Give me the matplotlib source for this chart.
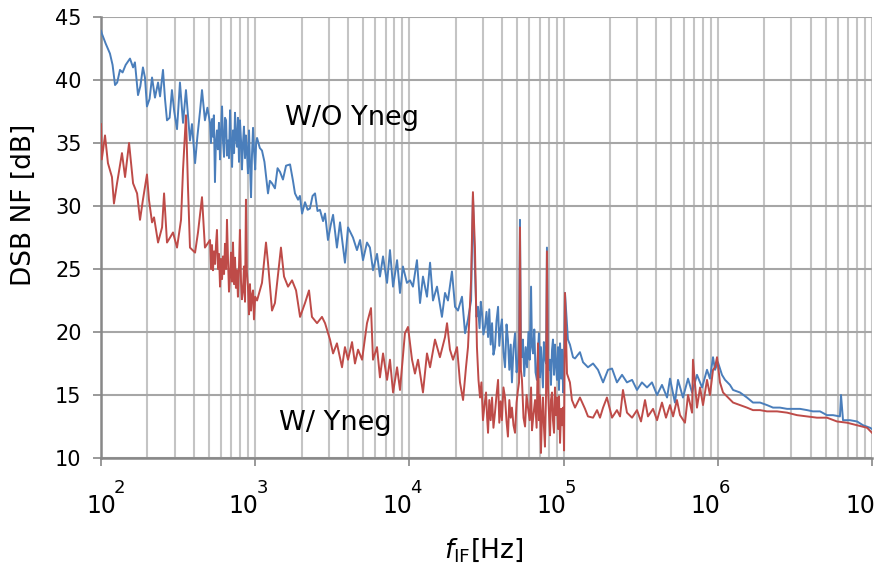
import numpy as np
import matplotlib
matplotlib.use("Agg")
import matplotlib.pyplot as plt
from matplotlib.transforms import blended_transform_factory, ScaledTranslation

plt.rcParams['font.family'] = ['DejaVu Sans']
plt.rcParams['mathtext.fontset'] = 'dejavusans'

# ---- data: log10(frequency / Hz) and DSB noise figure (dB) ----
blue_logf = [
    2.000, 2.005, 2.030, 2.058, 2.075, 2.091, 2.105, 2.123, 2.140, 2.160, 2.188, 2.208, 2.220, 2.240,
    2.255, 2.272, 2.285, 2.298, 2.315, 2.331, 2.350, 2.370, 2.383, 2.402, 2.415, 2.428, 2.445, 2.460,
    2.475, 2.493, 2.512, 2.532, 2.551, 2.565, 2.577, 2.590, 2.610, 2.625, 2.642, 2.655, 2.674, 2.690,
    2.707, 2.713, 2.720, 2.726, 2.732, 2.739, 2.745, 2.752, 2.758, 2.765, 2.772, 2.778, 2.785, 2.791,
    2.798, 2.804, 2.811, 2.817, 2.824, 2.830, 2.837, 2.843, 2.850, 2.856, 2.863, 2.869, 2.875, 2.882,
    2.888, 2.895, 2.901, 2.908, 2.914, 2.921, 2.927, 2.934, 2.940, 2.947, 2.953, 2.960, 2.966, 2.973,
    2.979, 2.986, 2.992, 3.000, 3.006, 3.012,
    3.030, 3.044, 3.060, 3.083, 3.095, 3.109,
    3.128, 3.145, 3.161, 3.180, 3.200, 3.226, 3.245, 3.258, 3.278, 3.290, 3.304, 3.323, 3.340, 3.355,
    3.372, 3.388, 3.404, 3.420, 3.440, 3.453, 3.472, 3.490, 3.505, 3.530, 3.550, 3.582, 3.602, 3.634,
    3.660, 3.680, 3.699, 3.725, 3.744, 3.764, 3.790, 3.809, 3.829, 3.855, 3.874, 3.894, 3.920, 3.939,
    3.958, 3.984, 4.004, 4.023, 4.049, 4.069, 4.088, 4.114, 4.134, 4.153, 4.179, 4.211, 4.231, 4.250,
    4.276, 4.296, 4.315, 4.341, 4.361, 4.380, 4.400, 4.412,
    4.425, 4.435, 4.445, 4.455, 4.463, 4.471, 4.480, 4.490, 4.500, 4.510, 4.518, 4.527, 4.536, 4.545,
    4.555, 4.565, 4.575, 4.583, 4.592, 4.600, 4.610, 4.620, 4.630, 4.639, 4.648, 4.657, 4.665, 4.675,
    4.685, 4.695, 4.704, 4.711, 4.717, 4.723, 4.730, 4.736, 4.745, 4.754, 4.763, 4.772, 4.780, 4.789,
    4.795, 4.802, 4.810, 4.818, 4.827, 4.834, 4.840, 4.847, 4.853, 4.860, 4.866, 4.872, 4.879, 4.886,
    4.892, 4.899, 4.905, 4.912, 4.918, 4.925, 4.931, 4.938, 4.944, 4.951, 4.957, 4.964, 4.970, 4.977,
    4.984, 4.990, 4.997, 5.003, 5.009,
    5.028, 5.041,
    5.061, 5.074, 5.106, 5.126, 5.158, 5.191, 5.223, 5.256, 5.288, 5.314, 5.346, 5.379, 5.411, 5.444,
    5.476, 5.508, 5.541, 5.573, 5.606, 5.638, 5.671, 5.690, 5.722, 5.742, 5.774, 5.807, 5.833, 5.865,
    5.898, 5.930, 5.949, 5.969, 5.982, 6.001, 6.027, 6.047, 6.079, 6.099, 6.144, 6.189, 6.228, 6.274,
    6.319, 6.358, 6.403, 6.449, 6.488, 6.533, 6.579, 6.617, 6.663, 6.708, 6.747, 6.792, 6.799, 6.812,
    6.857, 6.903, 6.942, 6.987, 7.000,
]
blue_nf = [
    43.9, 43.7, 42.9, 42.1, 41.2, 39.6, 39.8, 40.8, 40.6, 41.2, 41.7, 41.0, 41.4, 38.8,
    39.5, 41.0, 40.2, 37.9, 38.5, 40.2, 38.6, 39.8, 38.7, 40.8, 38.5, 36.8, 37.0, 39.2,
    37.5, 36.1, 39.8, 36.6, 39.2, 37.0, 35.2, 36.5, 33.4, 35.5, 37.5, 39.2, 36.8, 37.8,
    36.6, 35.0, 36.9, 35.5, 37.2, 31.9, 35.0, 36.0, 34.5, 36.6, 33.7, 35.8, 37.9, 35.2,
    33.9, 37.0, 36.8, 34.0, 35.2, 33.8, 37.6, 35.0, 33.1, 36.0, 34.2, 37.4, 35.5, 34.7,
    37.0, 33.5, 36.8, 35.2, 32.9, 35.0, 36.3, 33.8, 35.6, 34.2, 32.6, 36.0, 33.4, 30.7,
    34.0, 36.2, 34.5, 32.9, 35.0, 35.4,
    34.6, 34.4, 33.5, 31.0, 32.0, 31.8,
    31.4, 33.0, 32.7, 32.1, 33.2, 33.3, 32.0, 31.0, 30.5, 30.8, 29.4, 30.3, 29.7, 29.8,
    30.8, 31.0, 29.6, 29.7, 28.8, 29.4, 27.3, 28.5, 29.3, 26.7, 28.7, 25.5, 28.3, 27.5,
    26.5, 27.3, 25.7, 27.1, 26.7, 24.9, 26.2, 24.4, 26.0, 23.9, 26.5, 23.6, 25.7, 23.1,
    25.2, 23.9, 24.1, 23.6, 25.7, 22.3, 24.4, 22.8, 25.5, 22.5, 23.6, 21.2, 23.1, 22.5,
    24.8, 22.0, 21.7, 22.8, 19.9, 21.0, 22.5, 30.8,
    25.0, 21.2, 22.0, 20.3, 22.4, 21.5, 19.8, 20.4, 21.6, 19.6, 21.8, 19.0, 20.7, 18.2,
    18.8, 20.9, 22.0, 18.9, 20.3, 21.0, 18.4, 17.2, 20.6, 19.4, 17.0, 19.0, 16.0, 18.7,
    19.9, 16.8, 17.5, 19.5, 28.9, 19.0, 18.0, 19.4, 16.5, 18.8, 17.2, 20.0, 17.8, 23.6,
    18.8, 18.3, 20.2, 16.8, 16.2, 18.5, 19.9, 16.4, 18.8, 17.0, 15.6, 19.2, 18.0, 17.5,
    26.7, 18.0, 17.0, 17.8, 15.8, 18.6, 19.4, 16.6, 19.0, 17.4, 16.2, 18.8, 15.4, 19.1,
    16.3, 18.6, 15.2, 17.5, 23.1,
    19.4, 19.0,
    18.0, 17.9, 18.4, 17.6, 17.2, 17.5, 17.0, 16.0, 17.0, 17.1, 16.0, 16.6, 16.0, 16.2,
    15.4, 16.0, 15.6, 16.0, 15.0, 15.8, 14.8, 16.3, 14.4, 16.2, 14.8, 16.3, 15.2, 16.6,
    15.6, 17.0, 16.3, 18.0, 17.0, 17.6, 16.6, 16.2, 15.8, 15.4, 15.2, 14.8, 14.4, 14.4,
    14.2, 14.0, 14.0, 13.9, 13.9, 13.9, 13.8, 13.7, 13.7, 13.4, 13.4, 13.3, 15.0, 13.0,
    13.0, 12.9, 12.6, 12.4, 12.3,
]

red_logf = [
    2.000, 2.005, 2.026, 2.045, 2.071, 2.084, 2.104, 2.136, 2.156, 2.182, 2.208, 2.234, 2.253, 2.272,
    2.298, 2.311, 2.331, 2.344, 2.370, 2.396, 2.409, 2.428, 2.448, 2.467, 2.493, 2.519, 2.532, 2.551,
    2.564, 2.577, 2.610, 2.629, 2.655, 2.674,
    2.707, 2.714, 2.720, 2.726, 2.733, 2.740, 2.746, 2.752, 2.759, 2.765, 2.772, 2.778, 2.785, 2.791,
    2.798, 2.804, 2.811, 2.817, 2.824, 2.830, 2.837, 2.843, 2.850, 2.856, 2.863, 2.869, 2.875, 2.882,
    2.888, 2.895, 2.901, 2.908, 2.914, 2.921, 2.927, 2.934, 2.940, 2.946, 2.953, 2.960, 2.966, 2.973,
    2.979, 2.986, 2.992, 3.000, 3.012,
    3.044, 3.070, 3.083, 3.109, 3.128, 3.167,
    3.187, 3.213, 3.239, 3.265, 3.291, 3.323, 3.349, 3.368, 3.401, 3.433, 3.453, 3.485, 3.505, 3.530,
    3.563, 3.582, 3.602, 3.628, 3.647, 3.667, 3.693, 3.725, 3.751, 3.764, 3.790, 3.809, 3.829, 3.855,
    3.874, 3.894, 3.920, 3.939, 3.971, 3.991, 4.017, 4.036, 4.056, 4.088, 4.114, 4.134, 4.166, 4.198,
    4.231, 4.244, 4.263, 4.283, 4.309, 4.328, 4.348, 4.367, 4.380, 4.400, 4.412, 4.425,
    4.438, 4.448, 4.458, 4.467, 4.477, 4.487, 4.497, 4.504, 4.510, 4.518, 4.527, 4.536, 4.545, 4.555,
    4.565, 4.575, 4.583, 4.592, 4.600, 4.610, 4.620, 4.630, 4.639, 4.648, 4.657, 4.665, 4.675, 4.685,
    4.695, 4.704, 4.711, 4.717, 4.723, 4.730, 4.740, 4.750, 4.760, 4.769, 4.780, 4.789, 4.795, 4.805,
    4.815, 4.825, 4.834, 4.840, 4.847, 4.853, 4.860, 4.866, 4.872, 4.879, 4.886, 4.892, 4.899, 4.905,
    4.912, 4.918, 4.925, 4.931, 4.938, 4.944, 4.951, 4.957, 4.964, 4.970, 4.977, 4.984, 4.990, 4.997,
    5.003, 5.009,
    5.022, 5.041, 5.054, 5.074, 5.106, 5.139, 5.158, 5.191, 5.217, 5.236, 5.256, 5.281,
    5.314, 5.346, 5.366, 5.385, 5.411, 5.444, 5.476, 5.502, 5.528, 5.547, 5.580, 5.606, 5.638, 5.664,
    5.690, 5.710, 5.735, 5.755, 5.787, 5.807, 5.833, 5.839, 5.865, 5.885, 5.904, 5.930, 5.949, 5.969,
    5.982, 5.995, 6.014, 6.034, 6.066, 6.099, 6.144, 6.189, 6.228, 6.274, 6.319, 6.384, 6.449, 6.514,
    6.579, 6.643, 6.708, 6.773, 6.838, 6.903, 6.968, 7.000,
]
red_nf = [
    36.5, 33.7, 35.6, 33.4, 32.3, 30.2, 31.8, 34.2, 32.3, 35.0, 31.8, 31.0, 28.9, 30.5,
    32.5, 30.5, 28.7, 29.1, 27.1, 28.3, 31.0, 27.1, 27.5, 27.9, 26.7, 28.9, 32.9, 37.2,
    31.5, 26.7, 26.3, 27.9, 30.7, 26.7,
    27.3, 25.0, 26.9, 24.9, 26.4, 25.4, 27.0, 28.1, 25.0, 26.2, 23.6, 25.8, 24.2, 26.0,
    24.6, 27.0, 25.0, 28.9, 25.6, 23.2, 24.4, 26.3, 24.0, 27.1, 23.8, 25.9, 23.5, 24.9,
    22.8, 25.2, 28.1, 24.0, 22.6, 23.3, 25.2, 22.4, 30.5, 24.8, 23.6, 21.4, 23.8, 21.7,
    22.9, 23.3, 21.0, 22.8, 22.5,
    23.9, 27.1, 25.5, 21.7, 22.3, 26.7,
    24.4, 23.6, 24.1, 23.3, 21.2, 22.3, 23.3, 21.2, 20.7, 21.2, 20.7, 19.4, 18.3, 19.1,
    17.2, 18.8, 17.8, 19.2, 17.5, 18.6, 17.8, 20.7, 21.9, 17.8, 18.8, 16.4, 18.3, 16.2,
    17.8, 15.2, 17.2, 15.4, 19.9, 20.4, 17.8, 16.7, 17.8, 15.2, 18.3, 17.2, 19.4, 18.0,
    19.6, 20.7, 18.6, 17.8, 18.8, 16.0, 14.6, 17.2, 18.8, 24.1, 31.1, 26.7,
    18.8, 16.2, 14.8, 16.0, 13.0, 14.2, 15.2, 13.2, 12.0, 14.6, 13.0, 14.8, 12.4, 13.6,
    15.0, 16.2, 12.8, 14.5, 13.0, 15.6, 14.8, 12.9, 11.7, 14.6, 13.2, 14.0, 12.6, 12.0,
    14.4, 15.4, 16.0, 28.3, 17.0, 16.2, 13.2, 12.5, 15.0, 14.0, 13.0, 15.6, 12.2, 13.5,
    14.6, 12.4, 19.1, 13.0, 15.0, 10.4, 13.4, 14.8, 12.6, 10.9, 15.0, 26.4, 15.5, 13.6,
    11.8, 14.6, 15.2, 13.0, 12.0, 15.6, 13.4, 14.8, 12.3, 14.9, 11.2, 13.9, 12.6, 14.0,
    10.6, 23.1,
    16.7, 16.0, 14.6, 14.0, 14.8, 13.9, 13.3, 13.2, 13.8, 13.2, 14.0, 14.8,
    13.2, 13.8, 13.3, 15.4, 13.6, 13.2, 13.8, 12.9, 14.6, 13.3, 13.9, 13.0, 14.4, 13.2,
    14.2, 13.3, 14.6, 13.4, 12.8, 15.0, 13.6, 17.8, 14.0, 15.6, 14.2, 16.2, 15.0, 17.0,
    17.2, 18.0, 16.0, 15.2, 14.8, 14.4, 14.2, 14.0, 13.8, 13.8, 13.7, 13.7, 13.6, 13.4,
    13.3, 13.2, 13.2, 12.9, 12.8, 12.6, 12.4, 12.0,
]

y_ticks = [10, 15, 20, 25, 30, 35, 40, 45]
x_decades = [2, 3, 4, 5, 6, 7]
label_without = "W/O Yneg"
label_with = "W/ Yneg"

# ---- figure ----
W, H, DPI = 874, 572, 100
fig = plt.figure(figsize=(W / DPI, H / DPI), dpi=DPI)
ax = fig.add_axes([101 / W, 1 - 458 / H, (872 - 101) / W, (458 - 17) / H])

blue_c = '#4A7EBB'
red_c = '#BE4B48'
ax.plot(10 ** np.array(blue_logf), blue_nf, color=blue_c, lw=1.4, zorder=3, solid_joinstyle='round')
ax.plot(10 ** np.array(red_logf), red_nf, color=red_c, lw=1.4, zorder=4, solid_joinstyle='round')

ax.set_xscale('log')
ax.set_xlim(1e2, 1e7)
ax.set_ylim(10, 45)

# grid
ax.set_yticks(y_ticks)
ax.set_xticks([10.0 ** d for d in x_decades])
ax.set_xticks([m * 10.0 ** d for d in x_decades[:-1] for m in range(2, 10)], minor=True)
ax.grid(True, which='major', axis='y', color='#A6A6A6', lw=1.5, zorder=1)
ax.grid(True, which='both', axis='x', color='#C4C4C4', lw=1.5, zorder=1)
ax.set_axisbelow(True)

for s in ['top', 'right']:
    ax.spines[s].set_visible(False)
for s in ['left', 'bottom']:
    ax.spines[s].set_color('#888888')
    ax.spines[s].set_linewidth(1.8)
    ax.spines[s].set_zorder(2)

ax.tick_params(axis='y', which='major', direction='out', length=6, width=1.2, color='#888888',
               labelsize=15, pad=8, labelcolor='black')
ax.tick_params(axis='x', which='major', direction='out', length=6, width=1.2, color='#888888',
               labelbottom=False)
ax.tick_params(axis='x', which='minor', length=0, labelbottom=False)

# custom x tick labels: "10" with superscript exponent
base_tr = blended_transform_factory(ax.transData, fig.transFigure)
for i, d in enumerate(x_decades):
    xv = 10.0 ** d
    shift = 12 if i == 0 else 0
    tr10 = base_tr + ScaledTranslation((shift + 3) / DPI, 0, fig.dpi_scale_trans)
    trex = base_tr + ScaledTranslation((shift + 1) / DPI, 0, fig.dpi_scale_trans)
    ax.text(xv, 1 - 506 / H, '10', transform=tr10, ha='right', va='center',
            fontsize=17, clip_on=False)
    ax.text(xv, 1 - 488 / H, str(d), transform=trex, ha='left', va='center',
            fontsize=13, clip_on=False)

fig.text(24 / W, 1 - 205 / H, 'DSB NF [dB]', fontsize=19, rotation=90, ha='center', va='center')
fig.text(484 / W, 1 - 550 / H, r'$f_{\mathrm{IF}}$[Hz]', fontsize=19, ha='center', va='center')

ax.text(10 ** (2 + (352 - 101) / 154.2), 37.0, label_without, fontsize=19.5, ha='center', va='center', zorder=5)
ax.text(10 ** (2 + (335 - 101) / 154.2), 12.8, label_with, fontsize=19.5, ha='center', va='center', zorder=5)

fig.savefig('out.png', dpi=DPI)
